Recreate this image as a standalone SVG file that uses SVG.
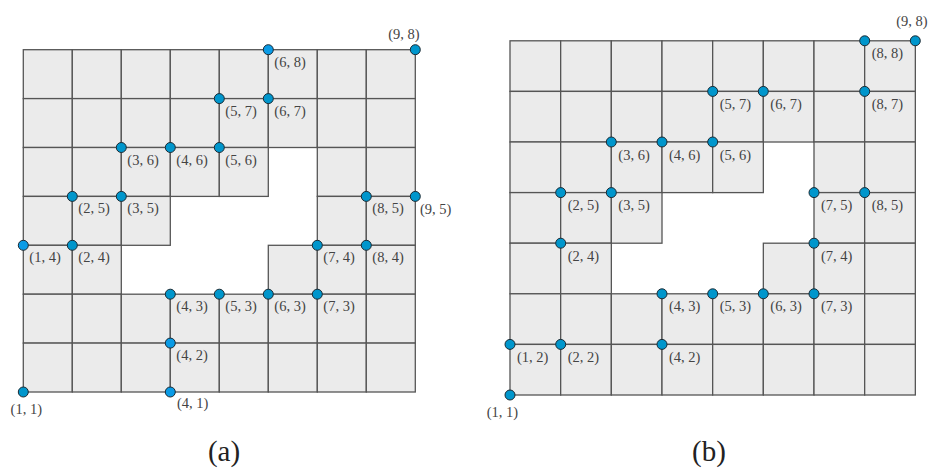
<svg xmlns="http://www.w3.org/2000/svg" xmlns:xlink="http://www.w3.org/1999/xlink" width="930" height="469" viewBox="0 0 930 469">
<style>
.cell{fill:#ebebeb;stroke:#555;stroke-width:1.3}
.dot{fill:#0096cc;stroke:#1b2a33;stroke-width:1}
.dot2{fill:#0a9be6;stroke:#1b2a33;stroke-width:1}
.lbl{font-family:'Liberation Serif','Times New Roman','DejaVu Serif',serif;font-size:14.5px;fill:#444}
.cap{font-family:'Liberation Serif','Times New Roman','DejaVu Serif',serif;font-size:29px;fill:#222;text-anchor:middle}
.mid{text-anchor:middle}
</style>
<defs>
<rect id="ca" class="cell" width="49" height="48.9"/>
<rect id="cb" class="cell" width="50.67" height="50.6"/>
</defs>
<rect width="930" height="469" fill="#fff"/>
<g id="gridA">
<use xlink:href="#ca" x="23.3" y="49.7"/><use xlink:href="#ca" x="72.3" y="49.7"/><use xlink:href="#ca" x="121.3" y="49.7"/><use xlink:href="#ca" x="170.3" y="49.7"/><use xlink:href="#ca" x="219.3" y="49.7"/><use xlink:href="#ca" x="268.3" y="49.7"/><use xlink:href="#ca" x="317.3" y="49.7"/><use xlink:href="#ca" x="366.3" y="49.7"/>
<use xlink:href="#ca" x="23.3" y="98.6"/><use xlink:href="#ca" x="72.3" y="98.6"/><use xlink:href="#ca" x="121.3" y="98.6"/><use xlink:href="#ca" x="170.3" y="98.6"/><use xlink:href="#ca" x="219.3" y="98.6"/><use xlink:href="#ca" x="268.3" y="98.6"/><use xlink:href="#ca" x="317.3" y="98.6"/><use xlink:href="#ca" x="366.3" y="98.6"/>
<use xlink:href="#ca" x="23.3" y="147.5"/><use xlink:href="#ca" x="72.3" y="147.5"/><use xlink:href="#ca" x="121.3" y="147.5"/><use xlink:href="#ca" x="170.3" y="147.5"/><use xlink:href="#ca" x="219.3" y="147.5"/><use xlink:href="#ca" x="317.3" y="147.5"/><use xlink:href="#ca" x="366.3" y="147.5"/>
<use xlink:href="#ca" x="23.3" y="196.4"/><use xlink:href="#ca" x="72.3" y="196.4"/><use xlink:href="#ca" x="121.3" y="196.4"/><use xlink:href="#ca" x="317.3" y="196.4"/><use xlink:href="#ca" x="366.3" y="196.4"/>
<use xlink:href="#ca" x="23.3" y="245.3"/><use xlink:href="#ca" x="72.3" y="245.3"/><use xlink:href="#ca" x="268.3" y="245.3"/><use xlink:href="#ca" x="317.3" y="245.3"/><use xlink:href="#ca" x="366.3" y="245.3"/>
<use xlink:href="#ca" x="23.3" y="294.2"/><use xlink:href="#ca" x="72.3" y="294.2"/><use xlink:href="#ca" x="121.3" y="294.2"/><use xlink:href="#ca" x="170.3" y="294.2"/><use xlink:href="#ca" x="219.3" y="294.2"/><use xlink:href="#ca" x="268.3" y="294.2"/><use xlink:href="#ca" x="317.3" y="294.2"/><use xlink:href="#ca" x="366.3" y="294.2"/>
<use xlink:href="#ca" x="23.3" y="343.1"/><use xlink:href="#ca" x="72.3" y="343.1"/><use xlink:href="#ca" x="121.3" y="343.1"/><use xlink:href="#ca" x="170.3" y="343.1"/><use xlink:href="#ca" x="219.3" y="343.1"/><use xlink:href="#ca" x="268.3" y="343.1"/><use xlink:href="#ca" x="317.3" y="343.1"/><use xlink:href="#ca" x="366.3" y="343.1"/>
</g>
<g id="gridB">
<use xlink:href="#cb" x="510" y="40.8"/><use xlink:href="#cb" x="560.67" y="40.8"/><use xlink:href="#cb" x="611.33" y="40.8"/><use xlink:href="#cb" x="662" y="40.8"/><use xlink:href="#cb" x="712.67" y="40.8"/><use xlink:href="#cb" x="763.33" y="40.8"/><use xlink:href="#cb" x="814" y="40.8"/><use xlink:href="#cb" x="864.67" y="40.8"/>
<use xlink:href="#cb" x="510" y="91.4"/><use xlink:href="#cb" x="560.67" y="91.4"/><use xlink:href="#cb" x="611.33" y="91.4"/><use xlink:href="#cb" x="662" y="91.4"/><use xlink:href="#cb" x="712.67" y="91.4"/><use xlink:href="#cb" x="763.33" y="91.4"/><use xlink:href="#cb" x="814" y="91.4"/><use xlink:href="#cb" x="864.67" y="91.4"/>
<use xlink:href="#cb" x="510" y="142"/><use xlink:href="#cb" x="560.67" y="142"/><use xlink:href="#cb" x="611.33" y="142"/><use xlink:href="#cb" x="662" y="142"/><use xlink:href="#cb" x="712.67" y="142"/><use xlink:href="#cb" x="814" y="142"/><use xlink:href="#cb" x="864.67" y="142"/>
<use xlink:href="#cb" x="510" y="192.6"/><use xlink:href="#cb" x="560.67" y="192.6"/><use xlink:href="#cb" x="611.33" y="192.6"/><use xlink:href="#cb" x="814" y="192.6"/><use xlink:href="#cb" x="864.67" y="192.6"/>
<use xlink:href="#cb" x="510" y="243.2"/><use xlink:href="#cb" x="560.67" y="243.2"/><use xlink:href="#cb" x="763.33" y="243.2"/><use xlink:href="#cb" x="814" y="243.2"/><use xlink:href="#cb" x="864.67" y="243.2"/>
<use xlink:href="#cb" x="510" y="293.8"/><use xlink:href="#cb" x="560.67" y="293.8"/><use xlink:href="#cb" x="611.33" y="293.8"/><use xlink:href="#cb" x="662" y="293.8"/><use xlink:href="#cb" x="712.67" y="293.8"/><use xlink:href="#cb" x="763.33" y="293.8"/><use xlink:href="#cb" x="814" y="293.8"/><use xlink:href="#cb" x="864.67" y="293.8"/>
<use xlink:href="#cb" x="510" y="344.4"/><use xlink:href="#cb" x="560.67" y="344.4"/><use xlink:href="#cb" x="611.33" y="344.4"/><use xlink:href="#cb" x="662" y="344.4"/><use xlink:href="#cb" x="712.67" y="344.4"/><use xlink:href="#cb" x="763.33" y="344.4"/><use xlink:href="#cb" x="814" y="344.4"/><use xlink:href="#cb" x="864.67" y="344.4"/>
</g>
<g id="connectors"></g>
<g id="pointsA">
<g id="a68"><circle class="dot2" cx="268.3" cy="49.7" r="5"/><text class="lbl" x="274.3" y="66.7">(6, 8)</text></g>
<g id="a98"><circle class="dot" cx="415.3" cy="49.7" r="5"/><text class="lbl mid" x="404" y="39">(9, 8)</text></g>
<g id="a57"><circle class="dot" cx="219.3" cy="98.6" r="5"/><text class="lbl" x="225.3" y="115.6">(5, 7)</text></g>
<g id="a67"><circle class="dot" cx="268.3" cy="98.6" r="5"/><text class="lbl" x="274.3" y="115.6">(6, 7)</text></g>
<g id="a36"><circle class="dot" cx="121.3" cy="147.5" r="5"/><text class="lbl" x="127.3" y="164.5">(3, 6)</text></g>
<g id="a46"><circle class="dot" cx="170.3" cy="147.5" r="5"/><text class="lbl" x="176.3" y="164.5">(4, 6)</text></g>
<g id="a56"><circle class="dot" cx="219.3" cy="147.5" r="5"/><text class="lbl" x="225.3" y="164.5">(5, 6)</text></g>
<g id="a25"><circle class="dot" cx="72.3" cy="196.4" r="5"/><text class="lbl" x="78.3" y="213.4">(2, 5)</text></g>
<g id="a35"><circle class="dot" cx="121.3" cy="196.4" r="5"/><text class="lbl" x="127.3" y="213.4">(3, 5)</text></g>
<g id="a85"><circle class="dot" cx="366.3" cy="196.4" r="5"/><text class="lbl" x="372.3" y="213.4">(8, 5)</text></g>
<g id="a95"><circle class="dot" cx="415.3" cy="196.4" r="5"/><text class="lbl" x="420" y="214">(9, 5)</text></g>
<g id="a14"><circle class="dot2" cx="23.3" cy="245.3" r="5"/><text class="lbl" x="29.3" y="262.3">(1, 4)</text></g>
<g id="a24"><circle class="dot" cx="72.3" cy="245.3" r="5"/><text class="lbl" x="78.3" y="262.3">(2, 4)</text></g>
<g id="a74"><circle class="dot" cx="317.3" cy="245.3" r="5"/><text class="lbl" x="323.3" y="262.3">(7, 4)</text></g>
<g id="a84"><circle class="dot" cx="366.3" cy="245.3" r="5"/><text class="lbl" x="372.3" y="262.3">(8, 4)</text></g>
<g id="a43"><circle class="dot" cx="170.3" cy="294.2" r="5"/><text class="lbl" x="176.3" y="311.2">(4, 3)</text></g>
<g id="a53"><circle class="dot" cx="219.3" cy="294.2" r="5"/><text class="lbl" x="225.3" y="311.2">(5, 3)</text></g>
<g id="a63"><circle class="dot" cx="268.3" cy="294.2" r="5"/><text class="lbl" x="274.3" y="311.2">(6, 3)</text></g>
<g id="a73"><circle class="dot" cx="317.3" cy="294.2" r="5"/><text class="lbl" x="323.3" y="311.2">(7, 3)</text></g>
<g id="a42"><circle class="dot2" cx="170.3" cy="343.1" r="5"/><text class="lbl" x="176.3" y="360.1">(4, 2)</text></g>
<g id="a11"><circle class="dot" cx="23.3" cy="392" r="5"/><text class="lbl mid" x="26.3" y="414">(1, 1)</text></g>
<g id="a41"><circle class="dot2" cx="170.3" cy="392" r="5"/><text class="lbl" x="177" y="408">(4, 1)</text></g>
</g>
<g id="pointsB">
<g id="b98"><circle class="dot" cx="915.3" cy="40.8" r="5"/><text class="lbl mid" x="912" y="25.5">(9, 8)</text></g>
<g id="b88"><circle class="dot" cx="864.7" cy="40.8" r="5"/><text class="lbl" x="871.7" y="58.3">(8, 8)</text></g>
<g id="b57"><circle class="dot" cx="712.7" cy="91.4" r="5"/><text class="lbl" x="719.7" y="108.9">(5, 7)</text></g>
<g id="b67"><circle class="dot" cx="763.3" cy="91.4" r="5"/><text class="lbl" x="770.3" y="108.9">(6, 7)</text></g>
<g id="b87"><circle class="dot" cx="864.7" cy="91.4" r="5"/><text class="lbl" x="871.7" y="108.9">(8, 7)</text></g>
<g id="b36"><circle class="dot" cx="611.3" cy="142" r="5"/><text class="lbl" x="618.3" y="159.5">(3, 6)</text></g>
<g id="b46"><circle class="dot" cx="662" cy="142" r="5"/><text class="lbl" x="669" y="159.5">(4, 6)</text></g>
<g id="b56"><circle class="dot" cx="712.7" cy="142" r="5"/><text class="lbl" x="719.7" y="159.5">(5, 6)</text></g>
<g id="b25"><circle class="dot" cx="560.7" cy="192.6" r="5"/><text class="lbl" x="567.7" y="210.1">(2, 5)</text></g>
<g id="b35"><circle class="dot" cx="611.3" cy="192.6" r="5"/><text class="lbl" x="618.3" y="210.1">(3, 5)</text></g>
<g id="b75"><circle class="dot" cx="814" cy="192.6" r="5"/><text class="lbl" x="821" y="210.1">(7, 5)</text></g>
<g id="b85"><circle class="dot" cx="864.7" cy="192.6" r="5"/><text class="lbl" x="871.7" y="210.1">(8, 5)</text></g>
<g id="b24"><circle class="dot" cx="560.7" cy="243.2" r="5"/><text class="lbl" x="567.7" y="260.7">(2, 4)</text></g>
<g id="b74"><circle class="dot" cx="814" cy="243.2" r="5"/><text class="lbl" x="821" y="260.7">(7, 4)</text></g>
<g id="b43"><circle class="dot" cx="662" cy="293.8" r="5"/><text class="lbl" x="669" y="311.3">(4, 3)</text></g>
<g id="b53"><circle class="dot" cx="712.7" cy="293.8" r="5"/><text class="lbl" x="719.7" y="311.3">(5, 3)</text></g>
<g id="b63"><circle class="dot" cx="763.3" cy="293.8" r="5"/><text class="lbl" x="770.3" y="311.3">(6, 3)</text></g>
<g id="b73"><circle class="dot" cx="814" cy="293.8" r="5"/><text class="lbl" x="821" y="311.3">(7, 3)</text></g>
<g id="b12"><circle class="dot" cx="510" cy="344.4" r="5"/><text class="lbl" x="517" y="361.9">(1, 2)</text></g>
<g id="b22"><circle class="dot" cx="560.7" cy="344.4" r="5"/><text class="lbl" x="567.7" y="361.9">(2, 2)</text></g>
<g id="b42"><circle class="dot" cx="662" cy="344.4" r="5"/><text class="lbl" x="669" y="361.9">(4, 2)</text></g>
<g id="b11"><circle class="dot" cx="510" cy="395" r="5"/><text class="lbl mid" x="502.5" y="417">(1, 1)</text></g>
</g>
<g id="captions">
<text class="cap" x="224" y="461">(a)</text>
<text class="cap" x="709" y="461">(b)</text>
</g>
</svg>
